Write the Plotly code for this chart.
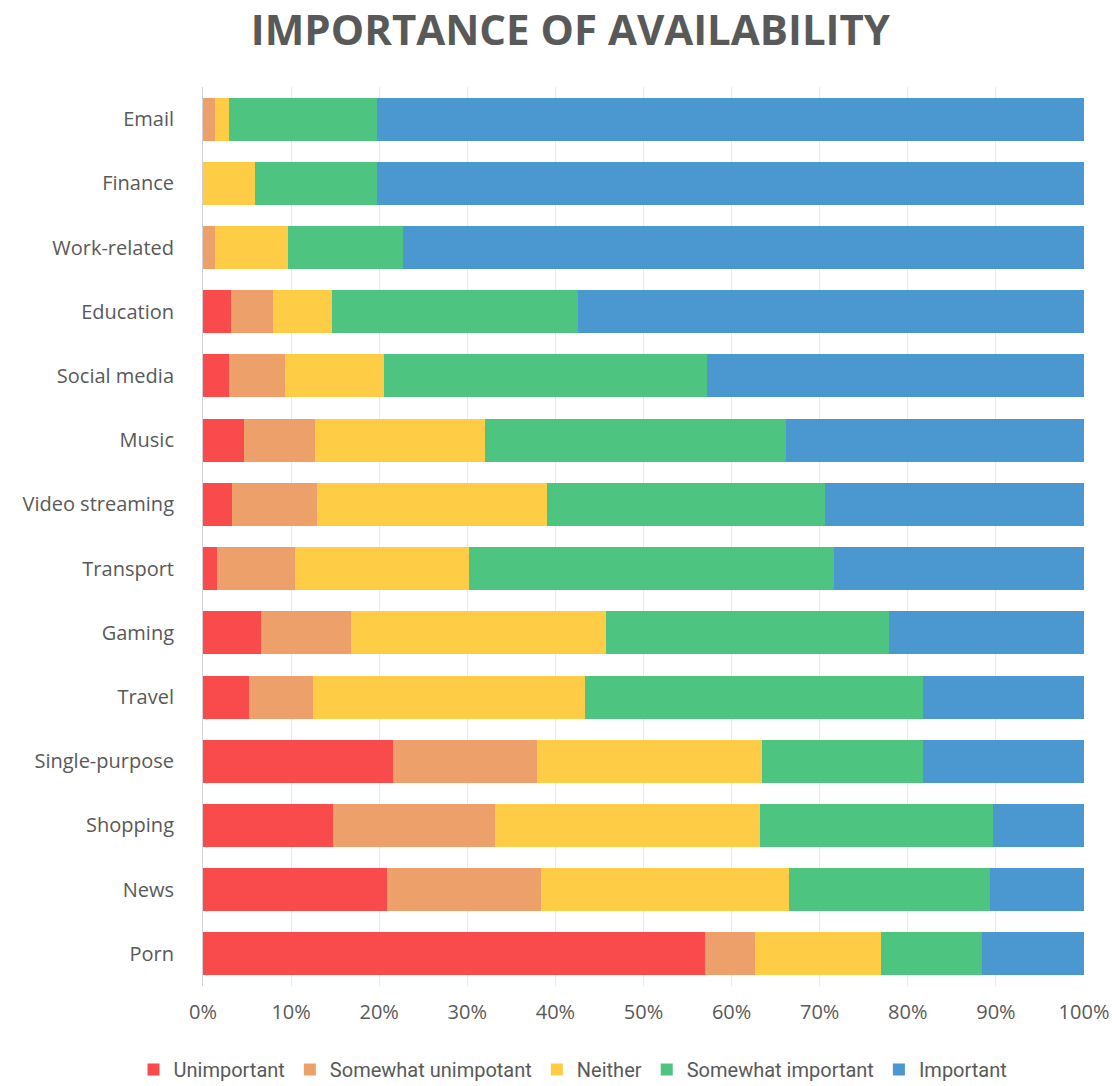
import plotly.graph_objects as go

categories = ["Email", "Finance", "Work-related", "Education", "Social media", "Music",
              "Video streaming", "Transport", "Gaming", "Travel", "Single-purpose",
              "Shopping", "News", "Porn"]

# segment widths (%)
unimportant = [0.0, 0.0, 0.0, 3.2, 3.0, 4.6, 3.3, 1.6, 6.6, 5.2, 21.6, 14.8, 20.9, 57.0]
somewhat_unimportant = [1.4, 0.0, 1.4, 4.8, 6.3, 8.1, 9.6, 8.8, 10.2, 7.3, 16.3, 18.3, 17.5, 5.7]
neither = [1.6, 5.9, 8.2, 6.6, 11.2, 19.3, 26.2, 19.8, 28.9, 30.9, 25.5, 30.1, 28.1, 14.3]
somewhat_important = [16.8, 13.9, 13.1, 28.0, 36.7, 34.2, 31.5, 41.4, 32.2, 38.3, 18.3, 26.5, 22.8, 11.4]
important = [80.2, 80.2, 77.3, 57.4, 42.8, 33.8, 29.4, 28.4, 22.1, 18.3, 18.3, 10.3, 10.7, 11.6]

series_names = ["Unimportant", "Somewhat unimpotant", "Neither", "Somewhat important", "Important"]
series_values = [unimportant, somewhat_unimportant, neither, somewhat_important, important]
colors = ["#F94B4B", "#EDA06A", "#FECD45", "#4DC480", "#4B98D0"]

tick_vals = [0, 10, 20, 30, 40, 50, 60, 70, 80, 90, 100]
tick_text = ["0%", "10%", "20%", "30%", "40%", "50%", "60%", "70%", "80%", "90%", "100%"]

fig = go.Figure()
for name, vals, col in zip(series_names, series_values, colors):
    fig.add_trace(go.Bar(
        y=categories, x=vals, name=name, orientation="h",
        marker=dict(color=col, line=dict(width=0)),
    ))

fig.update_layout(
    barmode="stack",
    bargap=0.33,
    width=1112, height=1086,
    paper_bgcolor="white", plot_bgcolor="white",
    margin=dict(l=203, r=28, t=87, b=100, autoexpand=False),
    title=dict(text="<b>IMPORTANCE OF AVAILABILITY</b>", x=0.513, xanchor="center",
               y=0.972, yanchor="middle",
               font=dict(family="Open Sans", size=42, color="#595959")),
    font=dict(family="Open Sans", color="#595959", size=18),
    legend=dict(orientation="h", x=0.42, xanchor="center", y=-0.093, yanchor="middle",
                font=dict(family="Roboto", size=20, color="#595959"), traceorder="normal",
                itemwidth=30),
    showlegend=True,
)
fig.update_xaxes(range=[0, 100], tickvals=tick_vals, ticktext=tick_text, automargin=False,
                 showgrid=True, gridcolor="rgba(140,140,160,0.18)", gridwidth=1,
                 zeroline=False, showline=False, ticks="", tickfont=dict(size=20, color="#595959"),
                 ticklabelstandoff=12, layer="above traces")
fig.update_yaxes(autorange="reversed", ticks="", ticklen=0, showline=True, automargin=False,
                 linecolor="#D0D0D8", linewidth=1, tickfont=dict(size=20, color="#595959"),
                 ticklabelstandoff=24)

fig.write_html("out.html")
